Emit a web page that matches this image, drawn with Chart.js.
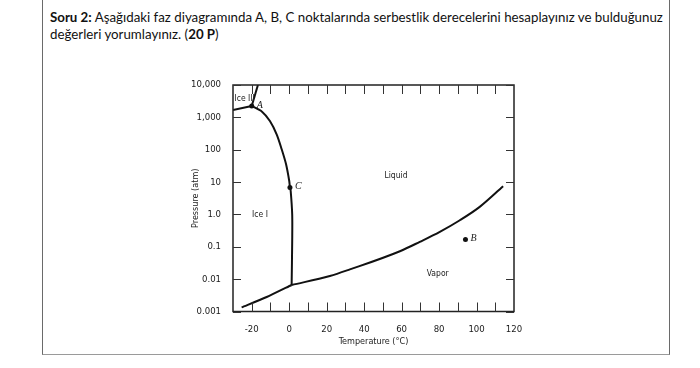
<!DOCTYPE html>
<html>
<head>
<meta charset="utf-8">
<script src="https://cdn.jsdelivr.net/npm/chart.js@4.4.1/dist/chart.umd.min.js"></script>
<style>
html, body { margin: 0; padding: 0; background: #fff; }
#wrap { position: relative; width: 700px; height: 368px; overflow: hidden; }
#box { position: absolute; left: 42px; top: -4px; width: 626px; height: 358px;
       border: 1.5px solid #6a6a6a; border-top: none; border-bottom-color: #9a9a9a; }
#q { position: absolute; left: 50px; top: 9px; font-family: Lato, "Open Sans", sans-serif;
     font-size: 13.3px; line-height: 16.5px; color: #111; white-space: nowrap; }
#chart { position: absolute; left: 0; top: 0; }
</style>
</head>
<body>
<div id="wrap">
  <div id="box"></div>
  <div id="q"><b>Soru 2:</b> Aşağıdaki faz diyagramında A, B, C noktalarında serbestlik derecelerini hesaplayınız ve bulduğunuz<br>değerleri yorumlayınız. (<b>20 P</b>)</div>
  <canvas id="chart" width="700" height="368"></canvas>
</div>
<script>
// axes
const xTicks = [-20, 0, 20, 40, 60, 80, 100, 120];
const xMinorTicks = [-20, -10, 0, 10, 20, 30, 40, 50, 60, 70, 80, 90, 100, 110];
const yTicks = [0.001, 0.01, 0.1, 1, 10, 100, 1000, 10000];
const yTickLabels = ['0.001', '0.01', '0.1', '1.0', '10', '100', '1,000', '10,000'];

// phase boundaries (T in °C, P in atm)
const iceIIIceI = [{x: -30, y: 1700}, {x: -20, y: 2250}];
const iceIIILiquid = [{x: -20, y: 2250}, {x: -16.7, y: 10000}];
const meltingCurve = [
    {x: -20, y: 2250}, {x: -14.5, y: 1500}, {x: -10.3, y: 770}, {x: -6.7, y: 300},
    {x: -4.0, y: 103}, {x: -1.7, y: 36}, {x: 0.0, y: 11}, {x: 0.4, y: 6.8},
    {x: 0.8, y: 5.3}, {x: 1.6, y: 1.0}, {x: 1.6, y: 0.15}, {x: 1.3, y: 0.0066}
];
const sublimationCurve = [{x: -25.4, y: 0.00134}, {x: -12, y: 0.0028}, {x: 1.3, y: 0.0066}];
const vaporCurve = [
    {x: 1.3, y: 0.0066}, {x: 21.7, y: 0.0125}, {x: 32.4, y: 0.02}, {x: 59.1, y: 0.073},
    {x: 69.7, y: 0.142}, {x: 80.4, y: 0.289}, {x: 91.1, y: 0.66}, {x: 101.7, y: 1.71},
    {x: 114.2, y: 7.4}
];

// marked points and region names
const markedPoints = [{x: -20, y: 2250}, {x: 94.1, y: 0.169}, {x: 0.4, y: 6.8}];
const markedNames = ['A', 'B', 'C'];
const regionNames = ['Ice III', 'Ice I', 'Liquid', 'Vapor'];
const regionSpots = [{x: -23.8, y: 3700}, {x: -15.6, y: 1.0}, {x: 57, y: 16}, {x: 79.3, y: 0.015}];

const narrow = "'Liberation Sans Narrow', 'DejaVu Sans Condensed', Arial, sans-serif";

function line(data, tension) {
    return {
        type: 'line', data: data, borderColor: '#111', borderWidth: 2,
        pointRadius: 0, tension: tension, fill: false
    };
}

const decorPlugin = {
    id: 'decor',
    afterDatasetsDraw(chart) {
        const ctx = chart.ctx;
        const a = chart.chartArea;
        const xs = chart.scales.x, ys = chart.scales.y;
        ctx.save();
        // frame
        ctx.strokeStyle = '#222';
        ctx.lineWidth = 1.5;
        ctx.strokeRect(a.left, a.top, a.right - a.left, a.bottom - a.top);
        // inner ticks
        ctx.lineWidth = 1;
        ctx.strokeStyle = '#333';
        ctx.beginPath();
        xMinorTicks.forEach(v => {
            const px = Math.round(xs.getPixelForValue(v)) + 0.5;
            ctx.moveTo(px, a.bottom); ctx.lineTo(px, a.bottom - 9);
            ctx.moveTo(px, a.top); ctx.lineTo(px, a.top + 9);
        });
        yTicks.forEach(v => {
            const py = Math.round(ys.getPixelForValue(v)) + 0.5;
            ctx.moveTo(a.left, py); ctx.lineTo(a.left + 8, py);
            ctx.moveTo(a.right, py); ctx.lineTo(a.right - 8, py);
        });
        ctx.stroke();
        // region names
        ctx.fillStyle = '#222';
        ctx.font = '8.5px ' + narrow;
        ctx.textAlign = 'center';
        ctx.textBaseline = 'middle';
        regionNames.forEach((t, i) => {
            ctx.fillText(t, xs.getPixelForValue(regionSpots[i].x), ys.getPixelForValue(regionSpots[i].y));
        });
        // point names
        ctx.font = 'italic 10px "Liberation Serif", serif';
        ctx.textAlign = 'left';
        markedNames.forEach((t, i) => {
            ctx.fillText(t, xs.getPixelForValue(markedPoints[i].x) + 5, ys.getPixelForValue(markedPoints[i].y) - 1);
        });
        // axis titles
        ctx.font = '9px ' + narrow;
        ctx.textAlign = 'center';
        ctx.fillText('Temperature (°C)', (a.left + a.right) / 2, a.bottom + 30);
        ctx.translate(a.left - 37, (a.top + a.bottom) / 2);
        ctx.rotate(-Math.PI / 2);
        ctx.fillText('Pressure (atm)', 0, 0);
        ctx.restore();
    }
};

new Chart(document.getElementById('chart').getContext('2d'), {
    type: 'line',
    data: {
        datasets: [
            line(iceIIIceI, 0),
            line(iceIIILiquid, 0),
            line(meltingCurve, 0.3),
            line(sublimationCurve, 0.2),
            Object.assign(line(vaporCurve, 0.4), {cubicInterpolationMode: 'monotone'}),
            {
                type: 'scatter', data: markedPoints, pointRadius: 2.5,
                pointBackgroundColor: '#111', pointBorderWidth: 0, showLine: false
            }
        ]
    },
    options: {
        responsive: false,
        animation: false,
        layout: {padding: {left: 180, right: 186, top: 85, bottom: 11.5}},
        plugins: {legend: {display: false}, tooltip: {enabled: false}},
        scales: {
            x: {
                type: 'linear', min: -30, max: 120,
                afterBuildTicks: s => { s.ticks = xTicks.map(v => ({value: v})); },
                afterFit: s => { s.height = 45; },
                grid: {display: false}, border: {display: false},
                ticks: {autoSkip: false, maxRotation: 0, padding: 4, color: '#1a1a1a',
                        font: {family: narrow, size: 9.5}, callback: v => v}
            },
            y: {
                type: 'logarithmic', min: 0.001, max: 10000,
                afterBuildTicks: s => { s.ticks = yTicks.map(v => ({value: v})); },
                afterFit: s => { s.width = 53; },
                grid: {display: false}, border: {display: false},
                ticks: {autoSkip: false, padding: 4, color: '#1a1a1a',
                        font: {family: narrow, size: 9.5}, callback: (v, i) => yTickLabels[i]}
            }
        }
    },
    plugins: [decorPlugin]
});
</script>
</body>
</html>
